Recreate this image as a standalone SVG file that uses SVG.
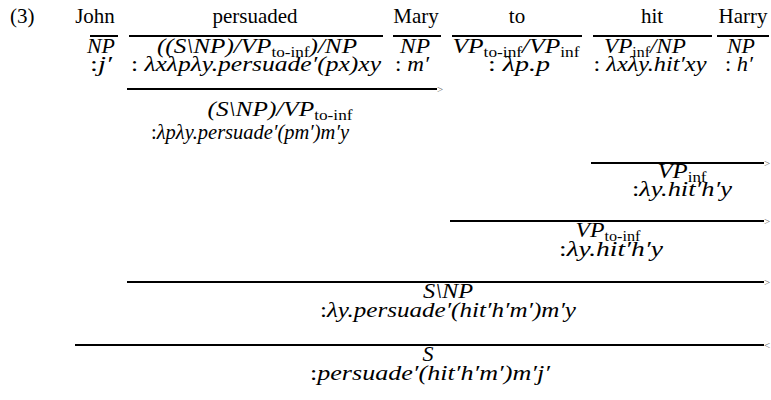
<svg xmlns="http://www.w3.org/2000/svg" width="771" height="400" viewBox="0 0 771 400">
<style>
text{font-family:"Liberation Serif","Times New Roman",serif;font-size:21px;fill:#000}
.m{font-size:22px}
.c{text-anchor:middle}
.i{font-style:italic}
.sub{font-size:15px;font-style:normal}
.rule{stroke:#000;stroke-width:2.2;fill:none}
.lex{stroke:#000;stroke-width:2;fill:none}
.arr{font-size:11px;fill:#666;font-style:normal}
</style>
<rect width="771" height="400" fill="#fff"/>
<text x="10" y="23">(3)</text>

<g id="rules">
  <line class="lex" x1="90" y1="36" x2="118" y2="36"/>
  <line class="lex" x1="129" y1="36" x2="383" y2="36"/>
  <line class="lex" x1="393" y1="36" x2="441" y2="36"/>
  <line class="lex" x1="452" y1="36" x2="582" y2="36"/>
  <line class="lex" x1="593" y1="36" x2="712" y2="36"/>
  <line class="lex" x1="717" y1="36" x2="769" y2="36"/>
  <line class="rule" x1="127" y1="89" x2="437" y2="89"/>
  <text class="arr" x="437" y="93">&gt;</text>
  <line class="rule" x1="591" y1="163" x2="764" y2="163"/>
  <text class="arr" x="764" y="167">&gt;</text>
  <line class="rule" x1="450" y1="221" x2="764" y2="221"/>
  <text class="arr" x="764" y="225">&gt;</text>
  <line class="rule" x1="127" y1="282" x2="764" y2="282"/>
  <text class="arr" x="764" y="286">&gt;</text>
  <line class="rule" x1="75" y1="345" x2="764" y2="345"/>
  <text class="arr" x="764" y="349">&lt;</text>
</g>

<g id="john">
  <text class="c" x="95" y="23">John</text>
  <text class="c i m" x="101" y="53" textLength="28" lengthAdjust="spacingAndGlyphs">NP</text>
  <text class="c m" x="101" y="71" textLength="22" lengthAdjust="spacingAndGlyphs">:<tspan class="i">j′</tspan></text>
</g>
<g id="persuaded">
  <text class="c" x="255" y="23">persuaded</text>
  <text class="c i m" x="257" y="53" textLength="200" lengthAdjust="spacingAndGlyphs">((S\NP)/VP<tspan class="sub" dy="4">to-inf</tspan><tspan dy="-4">)/NP</tspan></text>
  <text class="c m" x="256" y="71" textLength="250" lengthAdjust="spacingAndGlyphs">: <tspan class="i">λxλpλy.persuade′(px)xy</tspan></text>
</g>
<g id="mary">
  <text class="c" x="416" y="23">Mary</text>
  <text class="c i m" x="415" y="53" textLength="30" lengthAdjust="spacingAndGlyphs">NP</text>
  <text class="c m" x="412" y="71" textLength="34" lengthAdjust="spacingAndGlyphs">: <tspan class="i">m′</tspan></text>
</g>
<g id="to">
  <text class="c" x="517" y="23">to</text>
  <text class="c i m" x="516" y="53" textLength="127" lengthAdjust="spacingAndGlyphs">VP<tspan class="sub" dy="4">to-inf</tspan><tspan dy="-4">/VP</tspan><tspan class="sub" dy="4">inf</tspan></text>
  <text class="c m" x="519" y="71" textLength="62" lengthAdjust="spacingAndGlyphs">: <tspan class="i">λp.p</tspan></text>
</g>
<g id="hit">
  <text class="c" x="652" y="23">hit</text>
  <text class="c i m" x="645" y="53" textLength="82" lengthAdjust="spacingAndGlyphs">VP<tspan class="sub" dy="4">inf</tspan><tspan dy="-4">/NP</tspan></text>
  <text class="c m" x="650" y="71" textLength="113" lengthAdjust="spacingAndGlyphs">: <tspan class="i">λxλy.hit′xy</tspan></text>
</g>
<g id="harry">
  <text class="c" x="743" y="23">Harry</text>
  <text class="c i m" x="741" y="53" textLength="28" lengthAdjust="spacingAndGlyphs">NP</text>
  <text class="c m" x="739" y="71" textLength="28" lengthAdjust="spacingAndGlyphs">: <tspan class="i">h′</tspan></text>
</g>

<g id="step-persuaded-mary">
  <text class="c i m" x="280" y="116" textLength="145" lengthAdjust="spacingAndGlyphs">(S\NP)/VP<tspan class="sub" dy="4">to-inf</tspan></text>
  <text class="c m" x="250" y="139" textLength="198" lengthAdjust="spacingAndGlyphs">:<tspan class="i">λpλy.persuade′(pm′)m′y</tspan></text>
</g>
<g id="step-hit-harry">
  <text class="c i m" x="682" y="178" textLength="49" lengthAdjust="spacingAndGlyphs">VP<tspan class="sub" dy="4">inf</tspan></text>
  <text class="c m" x="682" y="196" textLength="100" lengthAdjust="spacingAndGlyphs">:<tspan class="i">λy.hit′h′y</tspan></text>
</g>
<g id="step-to">
  <text class="c i m" x="608" y="237" textLength="65" lengthAdjust="spacingAndGlyphs">VP<tspan class="sub" dy="4">to-inf</tspan></text>
  <text class="c m" x="611" y="256" textLength="104" lengthAdjust="spacingAndGlyphs">:<tspan class="i">λy.hit′h′y</tspan></text>
</g>
<g id="step-vp">
  <text class="c i m" x="448" y="298" textLength="50" lengthAdjust="spacingAndGlyphs">S\NP</text>
  <text class="c m" x="448" y="317" textLength="256" lengthAdjust="spacingAndGlyphs">:<tspan class="i">λy.persuade′(hit′h′m′)m′y</tspan></text>
</g>
<g id="step-s">
  <text class="c i m" x="428" y="361">S</text>
  <text class="c m" x="430" y="380" textLength="240" lengthAdjust="spacingAndGlyphs">:<tspan class="i">persuade′(hit′h′m′)m′j′</tspan></text>
</g>
</svg>
